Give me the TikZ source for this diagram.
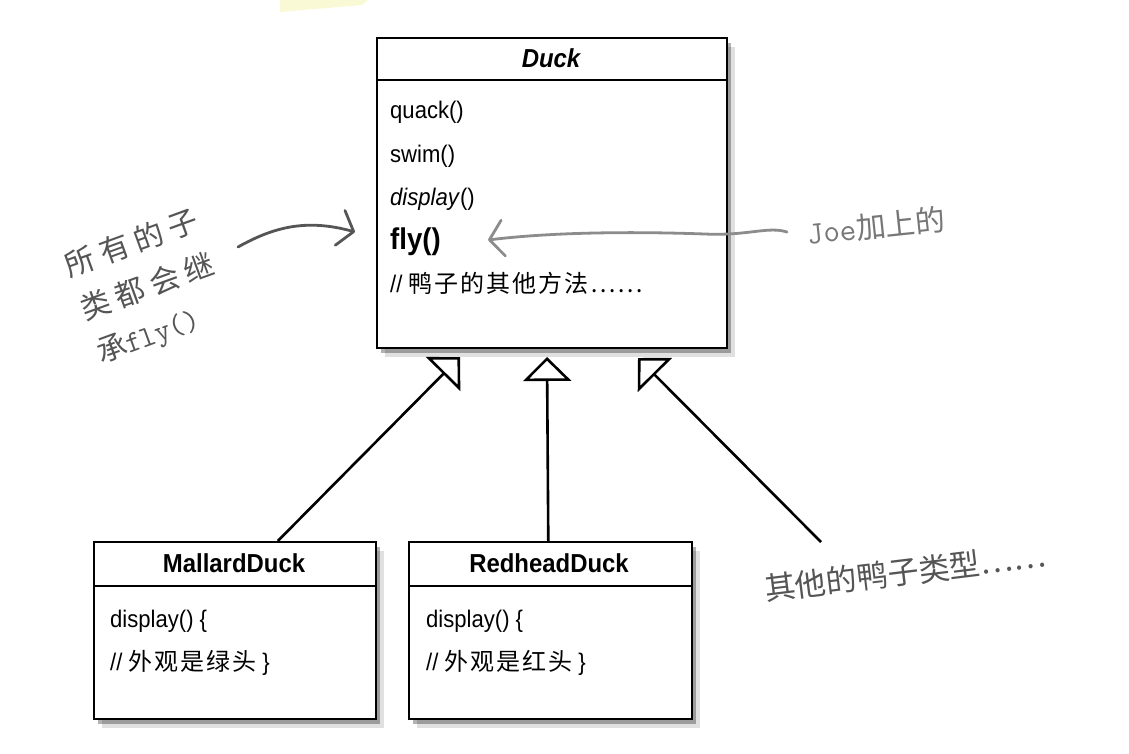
\documentclass[tikz,border=0pt]{standalone}
\usepackage{fontspec}
\setmainfont[FakeStretch=0.92]{Liberation Sans}
\newfontfamily\cjk{Noto Sans CJK SC}
\newfontfamily\cjkwide[LetterSpace=8]{Noto Sans CJK SC}
\usetikzlibrary{arrows.meta,shadows}
\definecolor{pencil}{HTML}{555555}
\definecolor{lightpencil}{HTML}{8C8C8C}
\definecolor{marker}{HTML}{F2F29A}
\tikzset{classbox/.style={draw, line width=1.6pt, fill=white, anchor=north west, inner sep=0pt,
    general shadow={shadow xshift=8pt, shadow yshift=-9pt, fill=black, opacity=.12},
    general shadow={shadow xshift=4pt, shadow yshift=-5pt, fill=black, opacity=.3}},
  classname/.style={anchor=base, inner sep=0pt, font=\fontsize{26}{30}\selectfont\bfseries},
  row/.style={anchor=base west, inner sep=0pt, font=\fontsize{24}{28}\selectfont},
  inherit/.style={line width=2.6pt, -{Triangle[open, length=24pt, width=48pt]}},
  handarrow/.style={line width=2.8pt, line cap=round, -{Straight Barb[length=14pt, width=36pt, round]}},
  note/.style={inner sep=0pt}}

\begin{document}
\begin{tikzpicture}[x=1pt, y=-1pt]
  \useasboundingbox (0,0) rectangle (1129,753);
  \fill[white] (0,0) rectangle (1129,753);
  \fill[marker, opacity=.4] (280,0) -- (368,0) -- (362,5) -- (280,12) -- cycle;

  \node (duck) [classbox, minimum width=350, minimum height=310] at (376, 37) {};
  \draw[line width=1.6pt] (duck.north west) ++(0,43) -- ++(350,0);
  \node (duckname) [classname, font=\fontsize{26}{30}\selectfont\bfseries\itshape] at (551, 67) {Duck};
  \node (quack) [row] at (390, 118) {quack()};
  \node (swim) [row] at (390, 162) {swim()};
  \node (display) [row] at (390, 205) {\textit{display}()};
  \node (fly) [row, font=\fontsize{30}{34}\selectfont\bfseries] at (390, 249) {fly()};
  \node (othermethods) [row] at (390, 292) {// {\cjkwide 鸭子的其他方法……}};

  \node (mallard) [classbox, minimum width=282, minimum height=177] at (93, 541) {};
  \draw[line width=1.6pt] (mallard.north west) ++(0,45) -- ++(282,0);
  \node (mallardname) [classname] at (234, 572) {MallardDuck};
  \node (mallardshow) [row] at (110, 627) {display() \{};
  \node (mallardlook) [row] at (110, 670) {// {\cjkwide 外观是绿头} \}};

  \node (redhead) [classbox, minimum width=283, minimum height=177] at (408, 541) {};
  \draw[line width=1.6pt] (redhead.north west) ++(0,45) -- ++(283,0);
  \node (redheadname) [classname] at (549, 572) {RedheadDuck};
  \node (redheadshow) [row] at (426, 627) {display() \{};
  \node (redheadlook) [row] at (426, 670) {// {\cjkwide 外观是红头} \}};

  % inheritance
  \coordinate (tipA) at (460, 357);
  \coordinate (tipB) at (547, 357);
  \coordinate (tipC) at (638, 358);
  \coordinate (otherend) at (821, 542);
  \draw ([xshift=43pt]mallard.north) edge[inherit] (tipA);
  \draw ([xshift=-2pt]redhead.north) edge[inherit] (tipB);
  \draw (otherend) edge[inherit] (tipC);

  % notes
  \node (allsub) [note, align=left, text=pencil, rotate=20, font=\fontsize{30}{46}\selectfont\cjk\addfontfeature{LetterSpace=22}]
    at (148, 288) {所有的子\\类都会继\\承{\ttfamily\fontsize{30}{46}\selectfont fly()}};
  \coordinate (allfrom) at (238, 247);
  \coordinate (allto) at (355, 232);
  \draw[handarrow, pencil] (allfrom) .. controls (272, 228) and (305, 218) .. (allto);

  \node (joe) [note, text=lightpencil!85!black, rotate=6, font=\fontsize{30}{34}\selectfont\cjk]
    at (876, 226) {{\ttfamily\fontsize{32}{34}\selectfont Joe}加上的};
  \coordinate (joefrom) at (787, 232);
  \coordinate (flyto) at (488, 240);
  \draw[handarrow, lightpencil] (joefrom) .. controls (768, 226) and (748, 236) .. (705, 234)
    .. controls (620, 231) and (545, 233) .. (flyto);

  \node (others) [note, text=pencil, rotate=7, font=\fontsize{31}{35}\selectfont\cjk]
    at (905, 572) {其他的鸭子类型……};
\end{tikzpicture}
\end{document}
